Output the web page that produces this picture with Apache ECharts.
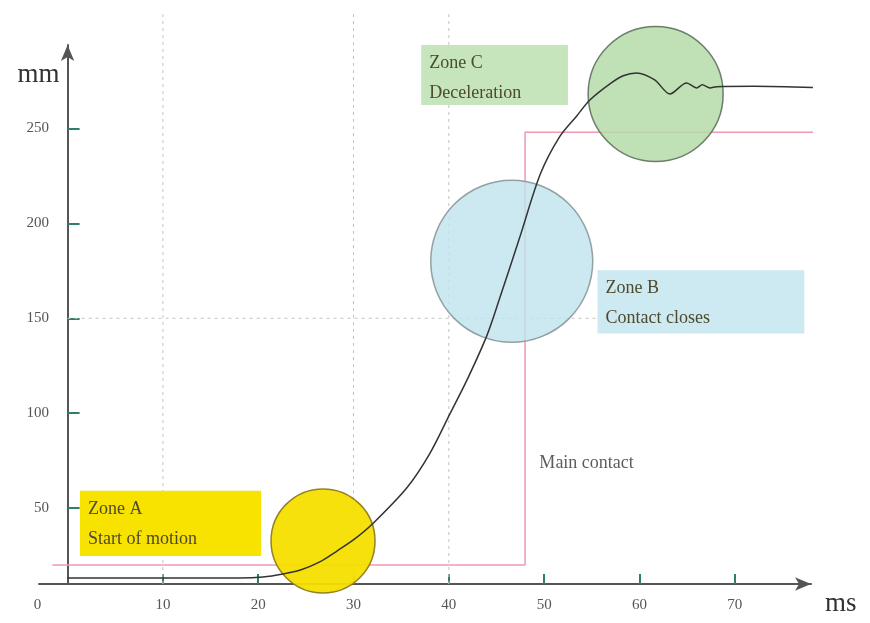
<!DOCTYPE html>
<html>
<head>
<meta charset="utf-8">
<script src="https://cdn.jsdelivr.net/npm/echarts@6/dist/echarts.min.js"></script>
<style>html,body{margin:0;padding:0;background:#fff;}#c{width:870px;height:623px;}</style>
</head>
<body>
<div id="c"></div>
<script>
// ---- data ----
var xTickValues = [10, 20, 30, 40, 50, 60, 70];
var xLabelValues = [0, 10, 20, 30, 40, 50, 60, 70];
var yTickValues = [50, 100, 150, 200, 250];
var travelCurve = [
  [0, 13.2], [10, 13.2], [18, 13.2], [20.5, 13.7], [22.6, 15.3], [24.5, 17.5], [26.4, 21.5],
  [28.3, 27.5], [30.2, 34], [32, 41.7], [35.6, 60.7], [38, 78.7], [40.1, 99.5], [42, 118.5],
  [44, 141], [45.3, 160], [47.4, 192], [49.6, 226], [51.6, 245.5], [53.4, 256.5], [54.8, 265],
  [56.9, 273.5], [58.3, 277.8], [59.7, 279.3], [61.6, 275.6], [63.2, 268.2], [64.95, 274],
  [66, 271.4], [66.6, 273], [67.4, 271.4], [68.1, 272], [72, 272.2], [78.2, 271.6]
];
var mainContact = [[-1.6, 20], [48, 20], [48, 248], [78.9, 248]];
var zoneCircles = [
  { name: 'Zone A', center: [26.8, 32.7], size: 104, color: '#f5df00', border: '#8c7d1e', opacity: 0.95 },
  { name: 'Zone B', center: [46.6, 180], size: 162, color: '#bfe3ee', border: '#7d8c8c', opacity: 0.8 },
  { name: 'Zone C', center: [61.7, 268.2], size: 135, color: '#b5dba9', border: '#566a55', opacity: 0.85 }
];
var zoneBoxes = [
  { text: 'Zone A\nStart of motion', from: [1.3, 59.1], to: [20.3, 24.8], color: '#f7e200' },
  { text: 'Zone B\nContact closes', from: [55.6, 175.3], to: [77.3, 142], color: '#cde9f1' },
  { text: 'Zone C\nDeceleration', from: [37.1, 294], to: [52.5, 262.4], color: '#c6e5bd' }
];
var gridV = [10, 30, 40];
var gridVRange = [10, 312];
var gridH = { y: 150, from: 0, to: 55.6 };
var mainContactLabel = { text: 'Main contact', at: [49.5, 73.4] };

// ---- chart ----
var chart = echarts.init(document.getElementById('c'));
var serif = 'Liberation Serif';
var dash = { color: '#c4c4c4', type: [3, 4], width: 1 };

var series = [];
// dashed guide lines
gridV.forEach(function (v) {
  series.push({
    type: 'line', data: [[v, gridVRange[0]], [v, gridVRange[1]]], symbol: 'none', clip: false,
    silent: true, z: 0, lineStyle: dash, animation: false
  });
});
series.push({
  type: 'line', data: [[gridH.from, gridH.y], [gridH.to, gridH.y]], symbol: 'none', clip: false,
  silent: true, z: 0, lineStyle: dash, animation: false
});
// zone boxes
series.push({
  type: 'line', data: [], silent: true, clip: false, z: 1,
  markArea: {
    silent: true, animation: false,
    data: zoneBoxes.map(function (b) {
      return [{
        coord: b.from, itemStyle: { color: b.color, opacity: 1 },
        label: {
          show: true, formatter: b.text, position: 'insideTopLeft', distance: 3,
          padding: [0, 0, 0, 5], lineHeight: 30, fontFamily: serif, fontSize: 18, color: '#4d4a2e'
        }
      }, { coord: b.to }];
    })
  }
});
// main contact step
series.push({
  type: 'line', data: mainContact, symbol: 'none', clip: false, z: 2,
  lineStyle: { color: '#f09aae', width: 1.5 }, animation: false
});
// zone circles
zoneCircles.forEach(function (c) {
  series.push({
    type: 'scatter', name: c.name, data: [c.center], symbol: 'circle', symbolSize: c.size, z: 3,
    itemStyle: { color: c.color, borderColor: c.border, borderWidth: 1.5, opacity: c.opacity },
    silent: true, animation: false
  });
});
// travel curve
series.push({
  type: 'line', data: travelCurve, symbol: 'none', smooth: 0.3, clip: false, z: 4,
  lineStyle: { color: '#333', width: 1.5 }, animation: false
});
// main contact label
series.push({
  type: 'scatter', data: [mainContactLabel.at], symbolSize: 0, z: 5, silent: true, animation: false,
  label: { show: true, position: 'right', distance: 0, formatter: mainContactLabel.text,
    fontFamily: serif, fontSize: 18, color: '#333' }
});

chart.setOption({
  backgroundColor: '#fff',
  animation: false,
  grid: { left: 39, right: 59, top: 45, bottom: 39 },
  xAxis: {
    type: 'value', min: -3, max: 78,
    name: 'ms', nameLocation: 'end', nameGap: 14,
    nameTextStyle: { fontFamily: serif, fontSize: 27, color: '#333', align: 'left', verticalAlign: 'top', padding: [6, 0, 0, 0] },
    axisLine: { onZero: false, symbol: ['none', 'arrow'], symbolSize: [10, 16], lineStyle: { color: '#555', width: 2 } },
    axisTick: { show: true, inside: true, length: 10, customValues: xTickValues, lineStyle: { color: '#2f7f6f', width: 2 } },
    axisLabel: {
      customValues: xLabelValues, margin: 14, fontFamily: serif, fontSize: 15, color: '#555',
      formatter: function (v) { return v === 0 ? '{z|0}' : String(v); },
      rich: { z: { padding: [0, 60, 0, 0], fontFamily: serif, fontSize: 15, color: '#555' } }
    },
    splitLine: { show: false }
  },
  yAxis: {
    type: 'value', min: 10, max: 294,
    name: 'mm', nameLocation: 'end', nameGap: -16,
    nameTextStyle: { fontFamily: serif, fontSize: 27, color: '#333', align: 'right', verticalAlign: 'top', padding: [0, 8, 0, 0] },
    axisLine: { onZero: true, symbol: ['none', 'arrow'], symbolSize: [10, 16], lineStyle: { color: '#555', width: 2 } },
    axisTick: { show: true, inside: true, length: 12, customValues: yTickValues, lineStyle: { color: '#2f7f6f', width: 2 } },
    axisLabel: { customValues: yTickValues, margin: -10, fontFamily: serif, fontSize: 15, color: '#555' },
    splitLine: { show: false }
  },
  series: series
});
</script>
</body>
</html>
